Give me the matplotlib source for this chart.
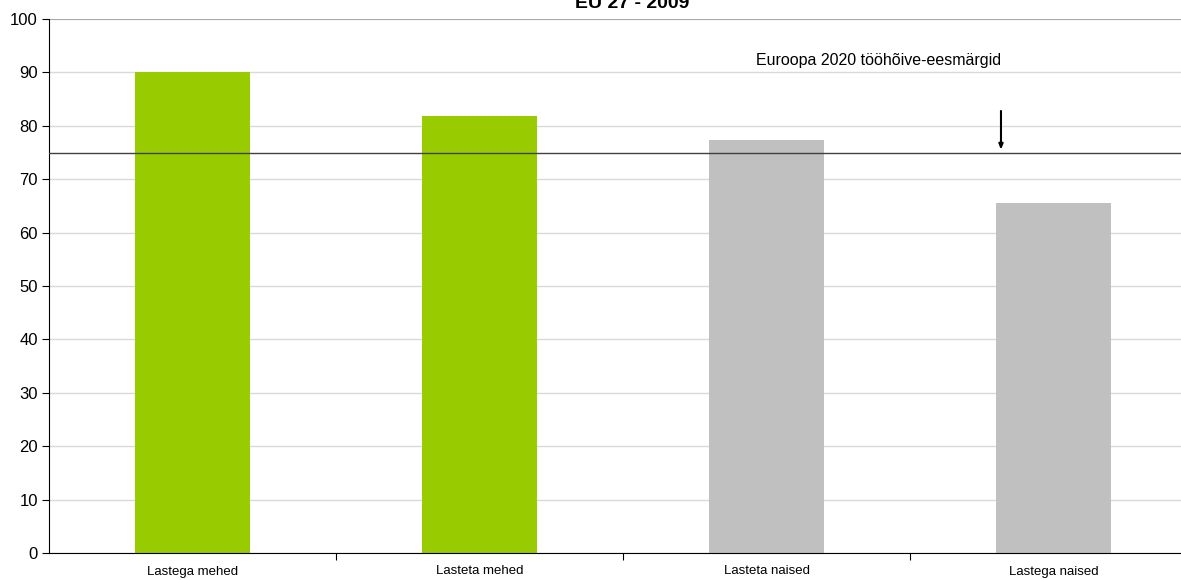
import matplotlib
matplotlib.use("Agg")
import matplotlib.pyplot as plt
import numpy as np

plt.rcParams['font.family'] = ['Liberation Sans', 'DejaVu Sans']

# employment rate, EU 27, 2009
categories = ["Lastega mehed", "Lasteta mehed", "Lasteta naised", "Lastega naised"]
values = [90.1, 81.9, 77.3, 65.6]
colors = ["#99CC00", "#99CC00", "#C0C0C0", "#C0C0C0"]
target = 75
target_label = "Euroopa 2020 tööhõive-eesmärgid"
title = "EU 27 - 2009"

fig = plt.figure(figsize=(11.81, 5.8), dpi=100)
ax = fig.add_axes([49 / 1181, 27 / 580, 1148 / 1181, 534 / 580])

x = np.arange(len(categories))
ax.bar(x, values, width=0.4, color=colors, zorder=2)

ax.set_xlim(-0.5, len(categories) - 0.5)
ax.set_ylim(0, 100)
ax.set_yticks(np.arange(0, 101, 10))
ax.yaxis.grid(True, color="#D9D9D9", linewidth=1, zorder=0)
ax.set_axisbelow(True)

# category labels centred under bars, ticks on the boundaries
ax.set_xticks(np.arange(0.5, len(categories) - 0.5, 1))
ax.set_xticklabels([])
ax.set_xticks(x, minor=True)
ax.set_xticklabels(categories, minor=True, fontsize=9.5)
ax.tick_params(axis="x", which="minor", length=0, pad=9)
ax.tick_params(axis="x", which="major", length=5, direction="out")
ax.tick_params(axis="y", labelsize=12, length=5, direction="out", pad=3)

for s in ["top", "right"]:
    ax.spines[s].set_visible(False)
ax.spines["left"].set_color("black")
ax.spines["bottom"].set_color("black")
ax.axhline(100, color="#A0A0A0", linewidth=1.2, zorder=1)

# target line with annotation
ax.axhline(target, color="#404040", linewidth=1, zorder=3)
ax.annotate("", xy=(2.817, target), xytext=(2.817, 83.3),
            arrowprops=dict(arrowstyle="-|>,head_length=0.3,head_width=0.12",
                            color="black", linewidth=1.5), zorder=4)
ax.text(1.963, 92.3, target_label, ha="left", va="center", fontsize=11.5)

fig.text(632 / 1181, 1 - 4 / 580, title, ha="center", va="center",
         fontsize=14, fontweight="bold")

fig.savefig("out.png", dpi=100)
